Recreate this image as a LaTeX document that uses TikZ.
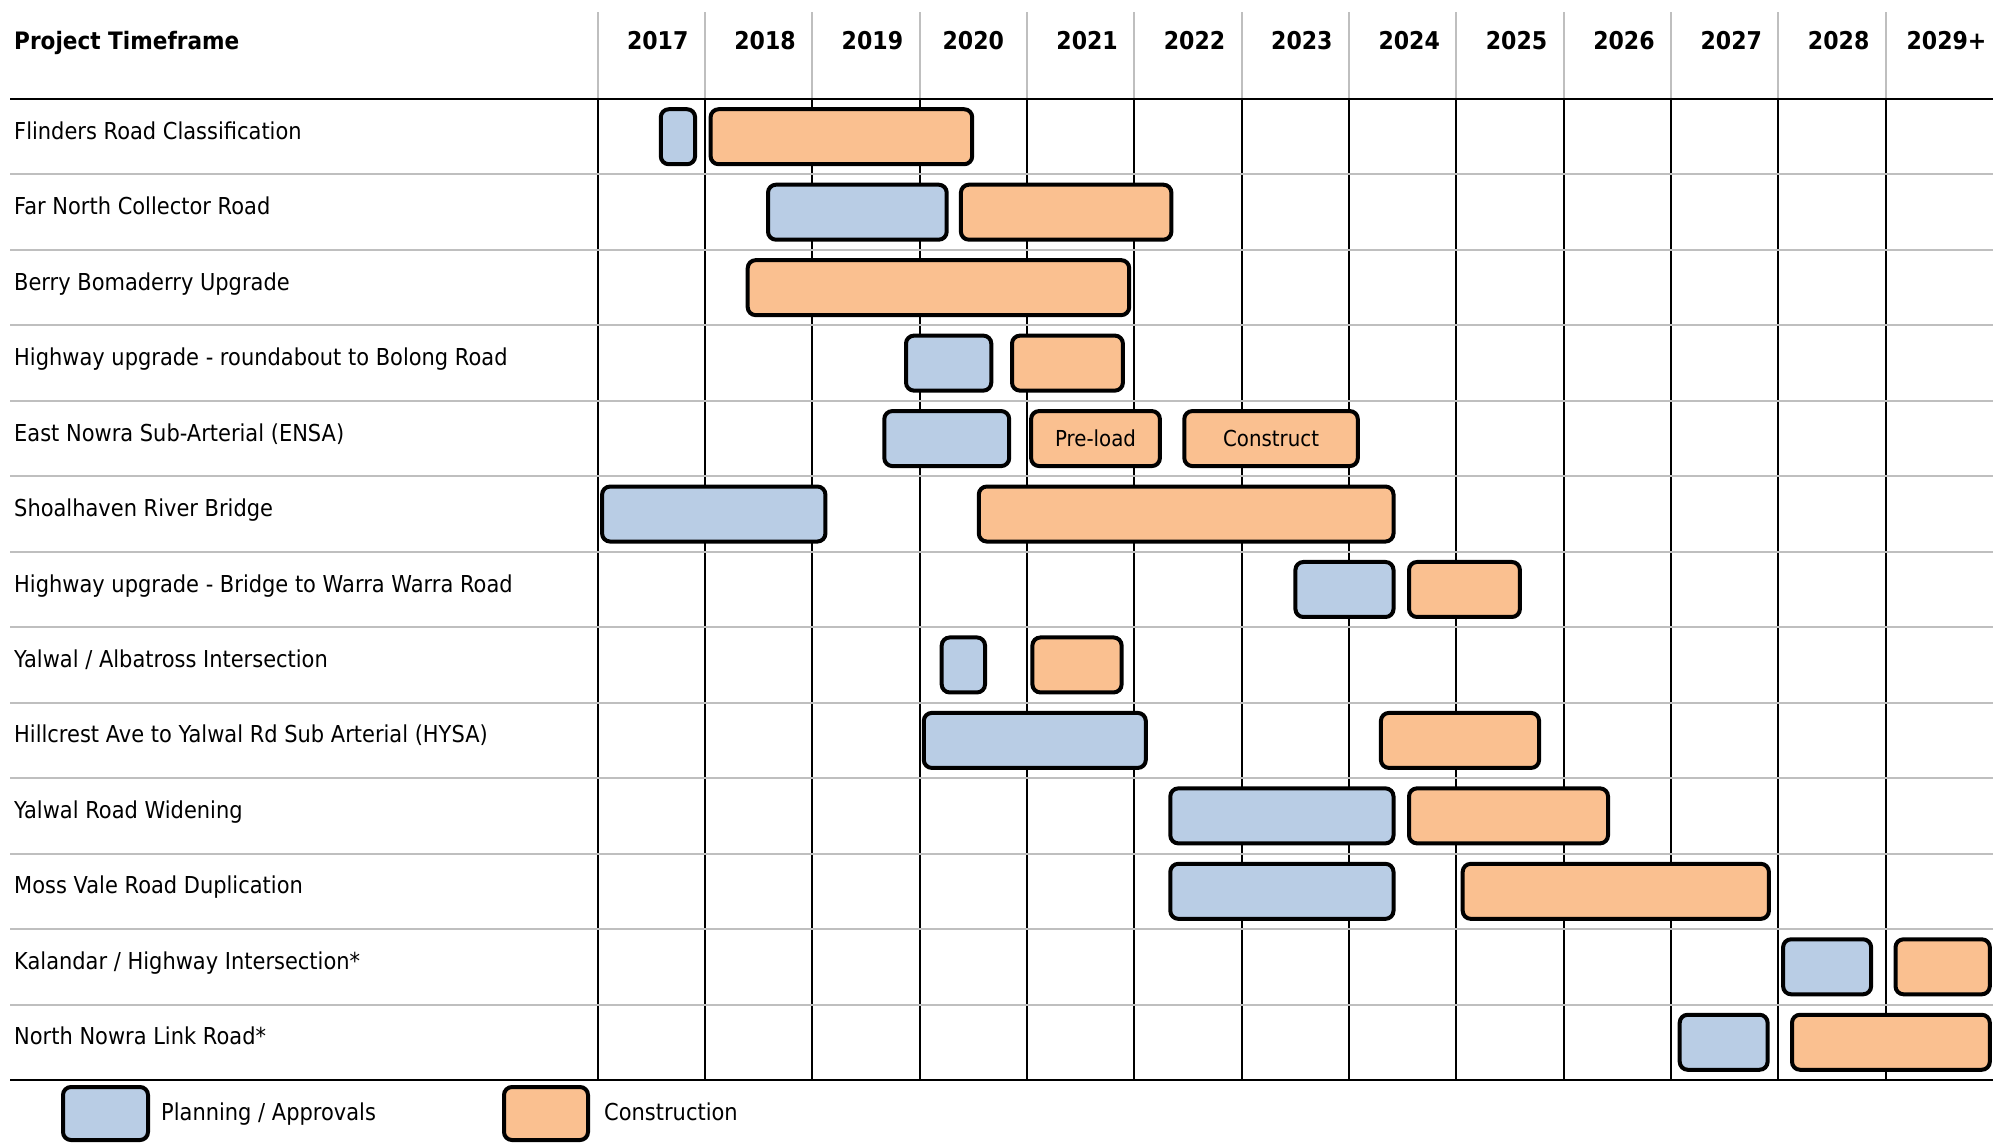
\documentclass[tikz,border=0pt]{standalone}
\usepackage{fontspec}
\setmainfont{DejaVu Sans}[FakeStretch=0.9]
\definecolor{planblue}{RGB}{185,205,229}
\definecolor{constorange}{RGB}{250,192,144}
\definecolor{gridgray}{RGB}{191,191,191}
\tikzset{
  barbase/.style={draw=black, line width=4pt, rounded corners=8pt, inner sep=0pt,
    font=\fontsize{22}{26}\selectfont},
  planbar/.style={barbase, fill=planblue},
  consbar/.style={barbase, fill=constorange},
  rowlabel/.style={anchor=base west, inner sep=0pt, font=\fontsize{23.3}{28}\selectfont},
  headlabel/.style={anchor=base, inner sep=0pt, font=\fontsize{24.5}{28}\selectfont\bfseries},
  gridline/.style={gridgray, line width=2pt},
  colline/.style={black, line width=2pt},
  mainrule/.style={black, line width=2.5pt},
}
\newcommand\ganttbar[6]{%
  \pgfmathsetmacro\gbw{#4-#3-4}%
  \pgfmathsetmacro\gbx{(#3+#4)/2}%
  \pgfmathsetmacro\gby{99+(#5-0.5)*75.46}%
  \node[#2, minimum width=\gbw pt, minimum height=55pt] (#1) at (\gbx,\gby) {#6};%
}
\begin{document}
\begin{tikzpicture}[x=1pt,y=-1pt]
\useasboundingbox (0,0) rectangle (2002,1146);
% grid
\foreach \i in {0,...,12} {
  \pgfmathsetmacro\xx{597.5+\i*107.36}
  \draw[gridline] (\xx,12) -- (\xx,99);
  \draw[colline] (\xx,99) -- (\xx,1080);
}
\foreach \i in {1,...,12} {
  \pgfmathsetmacro\yy{99+\i*75.46}
  \draw[gridline] (10,\yy) -- (1993,\yy);
}
\draw[mainrule] (10,99) -- (1993,99);
\draw[mainrule] (10,1080) -- (1993,1080);
% header
\node[headlabel, anchor=base west, font=\fontsize{24}{28}\selectfont\bfseries] (hdr) at (14,49.5) {Project Timeframe};
\foreach \yr/\dx [count=\i from 0] in {2017/6.5,2018/6.5,2019/6.5,2020/0,2021/6.5,2022/6.5,2023/6.5,2024/6.5,2025/6.5,2026/6.5,2027/6.5,2028/6.5,2029+/7} {
  \pgfmathsetmacro\xx{597.5+(\i+0.5)*107.36+\dx}
  \node[headlabel] (yr\i) at (\xx,49.5) {\yr};
}
% row labels
\foreach \lab [count=\i from 0] in {
  Flinders Road Classification,
  Far North Collector Road,
  Berry Bomaderry Upgrade,
  Highway upgrade - roundabout to Bolong Road,
  East Nowra Sub-Arterial (ENSA),
  Shoalhaven River Bridge,
  Highway upgrade - Bridge to Warra Warra Road,
  Yalwal / Albatross Intersection,
  Hillcrest Ave to Yalwal Rd Sub Arterial (HYSA),
  Yalwal Road Widening,
  Moss Vale Road Duplication,
  Kalandar / Highway Intersection*,
  North Nowra Link Road*} {
  \pgfmathsetmacro\yy{99+\i*75.46+40.3}
  \node[rowlabel] (lab\i) at (14,\yy) {\lab};
}
% bars
\ganttbar{p1}{planbar}{658.8}{697.1}{1}{}
\ganttbar{c1}{consbar}{708.6}{974.2}{1}{}
\ganttbar{p2}{planbar}{766}{948.7}{2}{}
\ganttbar{c2}{consbar}{958.9}{1173.4}{2}{}
\ganttbar{c3}{consbar}{745.7}{1131.2}{3}{}
\ganttbar{p4}{planbar}{904}{993.3}{4}{}
\ganttbar{c4}{consbar}{1010}{1124.9}{4}{}
\ganttbar{p5}{planbar}{882.3}{1011.2}{5}{}
\ganttbar{c5a}{consbar}{1029.1}{1161.9}{5}{\raisebox{-5pt}{Pre-load}}
\ganttbar{c5b}{consbar}{1182.3}{1359.8}{5}{\raisebox{-5pt}{Construct}}
\ganttbar{p6}{planbar}{600.1}{827.4}{6}{}
\ganttbar{c6}{consbar}{976.8}{1395.5}{6}{}
\ganttbar{p7}{planbar}{1293.4}{1395.5}{7}{}
\ganttbar{c7}{consbar}{1407}{1521.9}{7}{}
\ganttbar{p8}{planbar}{939.7}{987}{8}{}
\ganttbar{c8}{consbar}{1030.4}{1123.6}{8}{}
\ganttbar{p9}{planbar}{921.8}{1147.8}{9}{}
\ganttbar{c9}{consbar}{1378.9}{1541.1}{9}{}
\ganttbar{p10}{planbar}{1168.3}{1395.5}{10}{}
\ganttbar{c10}{consbar}{1407}{1610}{10}{}
\ganttbar{p11}{planbar}{1168.3}{1395.5}{11}{}
\ganttbar{c11}{consbar}{1460.7}{1770.9}{11}{}
\ganttbar{p12}{planbar}{1781.1}{1873.1}{12}{}
\ganttbar{c12}{consbar}{1893.5}{1991.8}{12}{}
\ganttbar{p13}{planbar}{1677.7}{1769.6}{13}{}
\ganttbar{c13}{consbar}{1790}{1991.8}{13}{}
% legend
\node[planbar, minimum width=85pt, minimum height=53pt] (legp) at (105.5,1113.5) {};
\node[rowlabel] (legpt) at (161,1120) {Planning / Approvals};
\node[consbar, minimum width=84pt, minimum height=53pt] (legc) at (546,1113.5) {};
\node[rowlabel] (legct) at (604,1120) {Construction};
\end{tikzpicture}
\end{document}
